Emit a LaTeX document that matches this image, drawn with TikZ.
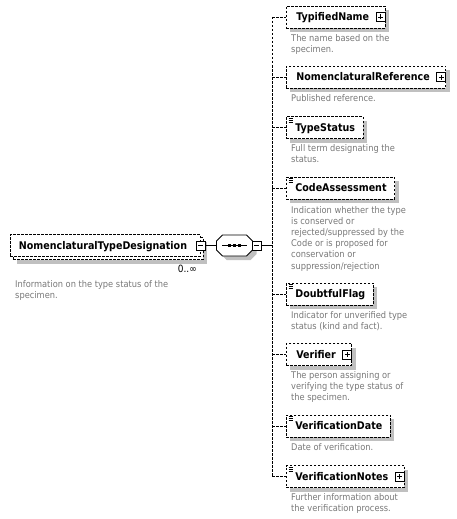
\documentclass[tikz,border=0pt]{standalone}
\usepackage{fontspec}
\setmainfont{DejaVu Sans Condensed}
\usetikzlibrary{shadows,calc}
\definecolor{shd}{RGB}{192,192,192}
\definecolor{dsc}{RGB}{120,120,120}
\tikzset{
  dshline/.style={line width=0.8pt, dash pattern=on 2.5pt off 1.5pt},
  solidline/.style={line width=0.8pt, solid},
  boxbase/.style={draw, dshline, fill=white, inner sep=0pt, minimum height=22pt,
    anchor=west, font=\bfseries\fontsize{10.6}{12}\selectfont, text height=7.8pt, text depth=0pt},
  elembox/.style={boxbase, general shadow={fill=shd, shadow xshift=4pt, shadow yshift=-4pt}},
  multibox/.style={boxbase,
    general shadow={fill=shd, shadow xshift=7pt, shadow yshift=-7pt},
    general shadow={draw, dshline, fill=white, shadow xshift=3pt, shadow yshift=-3pt}},
  descr/.style={anchor=north west, inner sep=0pt, align=left, text=dsc,
    font=\fontsize{9.2}{11.2}\selectfont},
  sgnbox/.style={draw, solid, line width=0.8pt, fill=white, minimum size=9pt, inner sep=0pt},
  plusicon/.style={sgnbox, path picture={
    \draw[line width=0.8pt] ([xshift=-2.5pt]path picture bounding box.center) -- ([xshift=2.5pt]path picture bounding box.center);
    \draw[line width=0.8pt] ([yshift=-2.5pt]path picture bounding box.center) -- ([yshift=2.5pt]path picture bounding box.center);}},
  minusicon/.style={sgnbox, path picture={
    \draw[line width=0.8pt] ([xshift=-2.5pt]path picture bounding box.center) -- ([xshift=2.5pt]path picture bounding box.center);}},
}
\newcommand\mkeqicon[1]{%
  \foreach \k in {2,4,6} \draw[line width=0.6pt] ($(#1.north west)+(2.5,\k)$) -- +(4.5,0);}
\begin{document}
\begin{tikzpicture}[x=1pt,y=-1pt]
\useasboundingbox (0,0) rectangle (457,519);

% root element
\node[multibox] (root) at (10,245.5) {\hspace*{8.5pt}NomenclaturalTypeDesignation\hspace*{13pt}};
\node[minusicon] (rm) at (root.east) {};
\node[anchor=base east, inner sep=0pt, font=\fontsize{10}{11}\selectfont] (occ) at (197,272) {0..∞};
\node[descr] (rootd) at (15,279.5) {\strut Information on the type status of the\\specimen.};

% sequence compositor
\node[minimum width=36pt, minimum height=21pt, inner sep=0pt] (seq) at (234.5,245.5) {};
\fill[shd, shift={(4,4)}] (222.5,235) -- (246.5,235) -- (252.5,241) -- (252.5,250) -- (246.5,256) -- (222.5,256) -- (216.5,250) -- (216.5,241) -- cycle;
\filldraw[fill=white, solidline] (222.5,235) -- (246.5,235) -- (252.5,241) -- (252.5,250) -- (246.5,256) -- (222.5,256) -- (216.5,250) -- (216.5,241) -- cycle;
\draw[solidline] ($(seq.center)+(-12.5,0)$) -- ($(seq.center)+(12.5,0)$);
\foreach \dx in {-5,0,5} \fill ($(seq.center)+(\dx-1.5,-1.5)$) rectangle +(3,3);
\node[minusicon] (sm) at (256.5,245.5) {};
\draw[solidline] (rm.east) -- (seq.west);
\coordinate (jm) at (272,245.5);
\draw[solidline] (sm.east) -- (jm);

% children
\node[elembox] (c1) at (286,17) {\hspace*{10pt}TypifiedName\hspace*{16pt}};
\node[plusicon, anchor=east] (p1) at (c1.east) {};
\node[descr] (d1) at (291,33) {\strut The name based on the\\specimen.};

\node[elembox] (c2) at (286,77) {\hspace*{10pt}NomenclaturalReference\hspace*{16pt}};
\node[plusicon, anchor=east] (p2) at (c2.east) {};
\node[descr] (d2) at (291,93) {\strut Published reference.};

\node[elembox] (c3) at (286,127.5) {\hspace*{9pt}TypeStatus\hspace*{8pt}};
\mkeqicon{c3}
\node[descr] (d3) at (291,143) {\strut Full term designating the\\status.};

\node[elembox] (c4) at (286,188) {\hspace*{9pt}CodeAssessment\hspace*{8pt}};
\mkeqicon{c4}
\node[descr] (d4) at (291,205) {\strut Indication whether the type\\is conserved or\\rejected/suppressed by the\\Code or is proposed for\\conservation or\\suppression/rejection};

\node[elembox] (c5) at (286,294) {\hspace*{9pt}DoubtfulFlag\hspace*{8pt}};
\mkeqicon{c5}
\node[descr] (d5) at (291,310) {\strut Indicator for unverified type\\status (kind and fact).};

\node[elembox] (c6) at (286,354.5) {\hspace*{10pt}Verifier\hspace*{16pt}};
\node[plusicon, anchor=east] (p6) at (c6.east) {};
\node[descr] (d6) at (291,370) {\strut The person assigning or\\verifying the type status of\\the specimen.};

\node[elembox] (c7) at (286,426) {\hspace*{9pt}VerificationDate\hspace*{8pt}};
\mkeqicon{c7}
\node[descr] (d7) at (291,442) {\strut Date of verification.};

\node[elembox] (c8) at (286,476.5) {\hspace*{9pt}VerificationNotes\hspace*{16pt}};
\mkeqicon{c8}
\node[plusicon, anchor=east] (p8) at (c8.east) {};
\node[descr] (d8) at (291,492) {\strut Further information about\\the verification process.};

% bus and branches
\foreach \i/\yy in {1/17,2/77,3/127.5,4/188,5/294,6/354.5,7/426,8/476.5}
  \coordinate (j\i) at (272,\yy);
\draw[dshline] (j1) -- (j8);
\foreach \i in {1,...,8} \draw[dshline] (j\i) -- (c\i.west);
\end{tikzpicture}
\end{document}
